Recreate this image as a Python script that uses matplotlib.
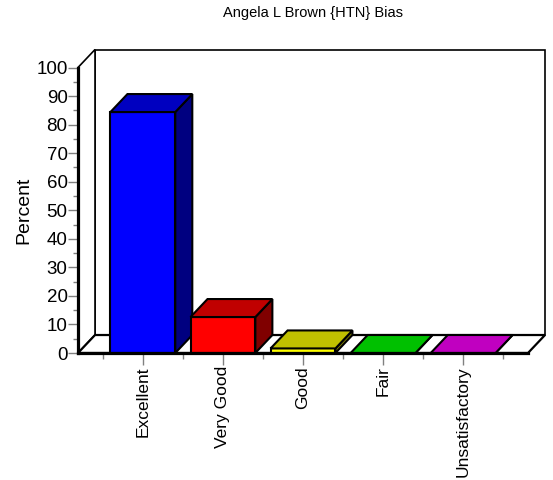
import matplotlib
matplotlib.use('Agg')
import matplotlib.pyplot as plt
from matplotlib.patches import Polygon
from matplotlib.ticker import FixedLocator, MultipleLocator

categories = ['Excellent', 'Very Good', 'Good', 'Fair', 'Unsatisfactory']
percent = [84.4, 12.6, 1.6, 0.0, 0.0]
front_colors = ['#0000ff', '#ff0000', '#ffff00', '#00ff00', '#ff00ff']
top_colors = ['#0000c0', '#c00000', '#c0c000', '#00c000', '#c000c0']
side_colors = ['#000080', '#800000', '#808000', '#008000', '#800080']
yticks = list(range(0, 101, 10))

plt.rcParams['font.family'] = ['Liberation Sans', 'DejaVu Sans']

fig = plt.figure(figsize=(5.53, 4.80), dpi=100)
ax = fig.add_axes([78 / 553, 127 / 480, 450 / 553, 285.5 / 480])

xmin, xmax = -0.81, 4.81
ymax = 100
dx, dy = 0.2125, 6.3      # depth of the 3d box in data units
bar_w = 0.81

ax.set_xlim(xmin, xmax)
ax.set_ylim(0, ymax)

# walls and floor
back = Polygon([(xmin + dx, dy), (xmax + dx, dy), (xmax + dx, ymax + dy), (xmin + dx, ymax + dy)],
               closed=True, facecolor='white', edgecolor='black', lw=1.2, clip_on=False, zorder=1)
left = Polygon([(xmin, 0), (xmin + dx, dy), (xmin + dx, ymax + dy), (xmin, ymax)],
               closed=True, facecolor='white', edgecolor='black', lw=1.2, clip_on=False, zorder=1)
floor = Polygon([(xmin, 0), (xmax, 0), (xmax + dx, dy), (xmin + dx, dy)],
                closed=True, facecolor='white', edgecolor='black', lw=1.6, clip_on=False, zorder=2)
for p in (back, left, floor):
    ax.add_patch(p)

# bars: front face, right side, top
for i, v in enumerate(percent):
    x0 = i - bar_w / 2
    x1 = i + bar_w / 2
    z = 3 + i
    ax.bar(i, v, width=bar_w, color=front_colors[i], edgecolor='black', lw=1.5, zorder=z, clip_on=False)
    side = Polygon([(x1, 0), (x1 + dx, dy), (x1 + dx, v + dy), (x1, v)], closed=True,
                   facecolor=side_colors[i], edgecolor='black', lw=1.5, clip_on=False, zorder=z)
    top = Polygon([(x0, v), (x1, v), (x1 + dx, v + dy), (x0 + dx, v + dy)], closed=True,
                  facecolor=top_colors[i], edgecolor='black', lw=1.5, clip_on=False, zorder=z)
    ax.add_patch(side)
    ax.add_patch(top)

for s in ('top', 'right'):
    ax.spines[s].set_visible(False)
for s in ('left', 'bottom'):
    ax.spines[s].set_linewidth(2.3)
    ax.spines[s].set_zorder(20)
    ax.spines[s].set_capstyle('projecting')

ax.yaxis.set_major_locator(FixedLocator(yticks))
ax.yaxis.set_minor_locator(MultipleLocator(5))
ax.set_xticks(range(len(categories)))
ax.set_xticklabels(categories, rotation=90)
ax.xaxis.set_minor_locator(FixedLocator([i - 0.5 for i in range(len(categories) + 1)]))

ax.tick_params(axis='both', which='both', color='#808080', width=1, labelcolor='black')
ax.tick_params(axis='y', which='major', length=7, pad=0.5, labelsize=13.5)
ax.tick_params(axis='y', which='minor', length=3.5)
ax.tick_params(axis='x', which='major', length=8.5, pad=1, labelsize=12.5)
ax.tick_params(axis='x', which='minor', length=4)

ax.set_ylabel('Percent', fontsize=14, labelpad=3)
fig.suptitle('Angela L Brown {HTN} Bias', x=313 / 553, y=1 - 13 / 480, va='center', fontsize=10.5)

fig.savefig('out.png', dpi=100)
